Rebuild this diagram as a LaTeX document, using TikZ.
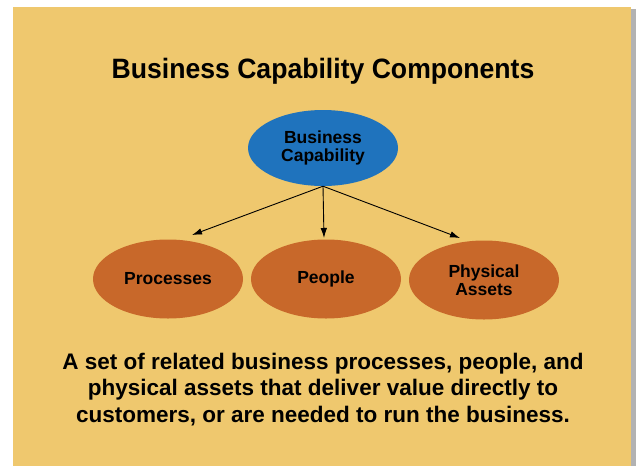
\documentclass[tikz,border=0pt]{standalone}
\usepackage{fontspec}
\setmainfont{Liberation Sans}
\newfontfamily\capfont[FakeStretch=0.95]{Liberation Sans}
\usetikzlibrary{arrows.meta,positioning,shapes.geometric}
\definecolor{panelbg}{HTML}{EFC86E}
\definecolor{capblue}{HTML}{1F73BD}
\definecolor{partorange}{HTML}{C8682A}

\begin{document}
\begin{tikzpicture}[
  x=1pt, y=-1pt,
  font=\bfseries,
  oval/.style={ellipse, inner sep=0pt, align=center, font=\bfseries\fontsize{17.5}{18}\selectfont},
  capoval/.style={oval, fill=capblue, minimum width=150pt, minimum height=76pt},
  partoval/.style={oval, fill=partorange, minimum width=150pt, minimum height=79pt},
  arr/.style={-{Latex[length=10pt,width=6.5pt]}, line width=0.9pt, black}
]
\useasboundingbox (0,0) rectangle (636,466);
% ---------------- panel and shadow
\fill[black!30] (631,9) rectangle (636,466);
\fill[panelbg] (13,7) rectangle (631,466);
% ---------------- title
\node[anchor=base, font=\capfont\bfseries\fontsize{28}{30}\selectfont] (title) at (323,78) {Business Capability Components};
% ---------------- capability and its parts
\node[capoval] (cap) at (323,148) {Business\\Capability};
\node[partoval] (proc) at (168,279) {Processes};
\node[partoval] (ppl) at (326,279) {People};
\node[partoval] (phys) at (484,280) {Physical\\Assets};
% ---------------- arrow ends
\coordinate (procin) at (192,235);
\coordinate (pplin) at (324,238);
\coordinate (physin) at (460,238);
\draw[arr] (cap.south) -- (procin);
\draw[arr] (cap.south) -- (pplin);
\draw[arr] (cap.south) -- (physin);
% ---------------- definition text (base = last line)
\node[anchor=base, align=center, font=\bfseries\fontsize{22.5}{26.5}\selectfont] (defn) at (323,422)
  {A set of related business processes, people, and\\
   physical assets that deliver value directly to\\
   customers, or are needed to run the business.};
\end{tikzpicture}
\end{document}
